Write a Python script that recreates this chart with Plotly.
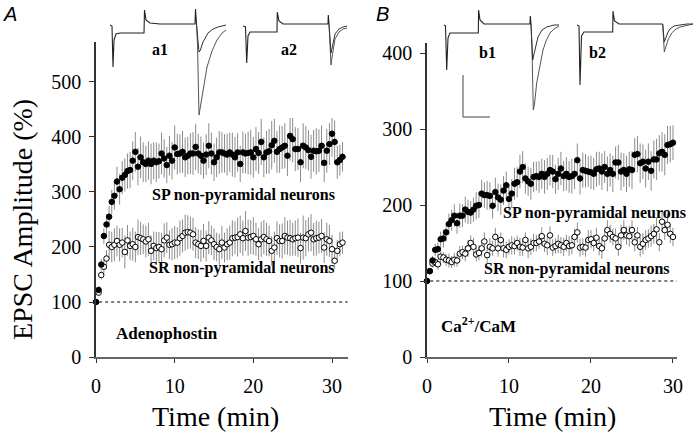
import plotly.graph_objects as go

W, H = 696, 438

# ---------------- data (EPSC amplitude, % of baseline), sampled every 20 s ----------------
sp_a = [100, 122, 168, 220, 241, 255, 282, 293, 319, 305,
        326, 331, 338, 340, 357, 373, 346, 363, 354, 351,
        357, 351, 357, 354, 356, 370, 361, 349, 366, 357,
        381, 369, 370, 373, 363, 366, 370, 370, 382, 370,
        366, 357, 368, 384, 370, 354, 363, 372, 372, 370,
        368, 372, 368, 363, 372, 351, 372, 370, 371, 372,
        363, 378, 371, 391, 363, 372, 374, 385, 393, 373,
        378, 381, 384, 366, 402, 396, 378, 378, 354, 384,
        381, 376, 364, 375, 374, 375, 384, 353, 375, 387,
        406, 391, 354, 358, 364]
sp_a_err = [0, 6, 10, 14, 18, 20, 22, 25, 27, 28,
            30, 30, 32, 33, 35, 36, 34, 38, 36, 33,
            35, 37, 34, 36, 32, 38, 35, 33, 36, 34,
            40, 37, 35, 38, 36, 34, 37, 39, 42, 36,
            35, 33, 37, 41, 38, 34, 36, 39, 37, 35,
            38, 36, 40, 37, 35, 33, 38, 36, 39, 41,
            37, 40, 38, 42, 36, 39, 41, 44, 40, 38,
            43, 39, 41, 37, 45, 42, 40, 38, 36, 41,
            39, 37, 40, 38, 42, 39, 37, 35, 40, 38,
            42, 39, 30, 28, 27]
sr_a = [100, 117, 149, 164, 179, 204, 200, 204, 211, 204,
        208, 191, 212, 202, 205, 200, 218, 216, 214, 210,
        214, 193, 202, 198, 200, 196, 212, 217, 204, 205,
        208, 208, 216, 220, 226, 227, 226, 223, 208, 205,
        202, 211, 202, 217, 212, 205, 200, 196, 208, 199,
        205, 208, 216, 217, 218, 223, 216, 229, 217, 218,
        220, 214, 205, 214, 218, 214, 211, 193, 199, 216,
        211, 211, 220, 217, 216, 214, 216, 217, 198, 217,
        216, 223, 226, 214, 216, 217, 220, 199, 214, 211,
        196, 175, 193, 205, 208]
sr_a_err = [0, 5, 8, 12, 15, 25, 28, 30, 28, 30,
            27, 30, 28, 26, 30, 28, 32, 30, 27, 29,
            30, 28, 26, 29, 27, 30, 31, 28, 26, 29,
            30, 28, 32, 30, 33, 31, 29, 30, 28, 27,
            29, 31, 28, 30, 27, 29, 26, 28, 30, 27,
            29, 31, 33, 30, 35, 34, 32, 36, 33, 31,
            34, 30, 29, 32, 31, 30, 28, 27, 29, 31,
            30, 32, 34, 31, 33, 30, 32, 35, 28, 40,
            33, 31, 34, 30, 32, 29, 31, 28, 30, 29,
            26, 15, 20, 22, 20]
sp_b = [100, 113, 127, 141, 142, 155, 156, 164, 175, 180,
        186, 176, 186, 186, 194, 191, 190, 194, 199, 200,
        215, 213, 213, 212, 199, 217, 210, 207, 219, 226,
        208, 215, 228, 230, 244, 250, 235, 231, 228, 237,
        238, 237, 241, 237, 241, 246, 244, 234, 241, 248,
        238, 241, 237, 238, 241, 259, 235, 246, 245, 244,
        243, 241, 247, 248, 244, 250, 241, 246, 241, 256,
        256, 244, 246, 241, 247, 246, 266, 267, 255, 257,
        248, 257, 245, 260, 260, 268, 270, 266, 279, 280,
        282]
sp_b_err = [0, 4, 6, 8, 9, 10, 12, 12, 14, 14,
            15, 14, 16, 15, 17, 16, 15, 16, 18, 17,
            18, 17, 19, 18, 17, 19, 18, 20, 19, 18,
            20, 19, 21, 20, 22, 21, 20, 19, 21, 20,
            19, 21, 20, 22, 21, 20, 22, 19, 21, 22,
            20, 22, 21, 23, 20, 22, 21, 23, 22, 20,
            22, 21, 23, 22, 24, 21, 23, 22, 24, 21,
            23, 25, 22, 24, 23, 25, 22, 24, 26, 23,
            25, 24, 26, 25, 27, 24, 26, 27, 25, 24,
            23]
sr_b = [100, 113, 123, 125, 122, 132, 131, 128, 127, 125,
        128, 127, 136, 138, 136, 143, 150, 145, 135, 137,
        143, 152, 134, 145, 143, 158, 143, 154, 143, 141,
        145, 147, 146, 150, 145, 144, 154, 143, 145, 150,
        150, 152, 159, 149, 147, 160, 144, 146, 149, 147,
        145, 150, 146, 147, 158, 164, 144, 145, 144, 154,
        155, 150, 157, 146, 143, 156, 167, 162, 158, 156,
        145, 160, 167, 160, 159, 167, 151, 160, 145, 149,
        154, 156, 159, 162, 168, 151, 178, 167, 174, 162,
        158]
sr_b_err = [0, 3, 5, 6, 7, 8, 7, 8, 9, 8,
            9, 8, 10, 9, 10, 11, 10, 12, 9, 10,
            11, 12, 10, 11, 10, 12, 11, 10, 12, 11,
            10, 12, 11, 10, 12, 11, 10, 13, 11, 12,
            11, 10, 12, 11, 13, 12, 11, 10, 12, 11,
            12, 11, 13, 12, 11, 13, 12, 11, 12, 13,
            12, 11, 13, 12, 14, 12, 13, 12, 11, 13,
            12, 14, 13, 12, 14, 13, 12, 11, 13, 14,
            13, 12, 14, 13, 15, 12, 14, 13, 15, 12,
            12]

t_a = [k / 3 for k in range(len(sp_a))]
t_b = [k / 3 for k in range(len(sp_b))]

y_ticks_a = [0, 100, 200, 300, 400, 500]
y_ticks_b = [0, 100, 200, 300, 400]
x_ticks = [0, 10, 20, 30]

# ---------------- inset sample traces (local time units, current units) ----------------
a1_common_t = [0, 2, 3, 4, 6, 10, 34, 34.5, 36, 40, 50, 85, 85.5, 86.5]
a1_common_i = [-1, -2, -43, -16, -10, -9, -9, 14, 4, 1, 0, 0, 15, 0]
a1_big_t = [86.5, 87.5, 89, 90, 93, 97, 102, 107, 112, 116]
a1_big_i = [0, -20, -91, -85, -65, -43, -27, -16, -9, -6]
a1_small_t = [86.5, 87.5, 89, 90, 93, 98, 103, 108, 116]
a1_small_i = [0, -10, -28, -27, -18, -9, -5, -3, -1]

a2_common_t = [0, 2.5, 3.7, 5, 7, 34, 34.3, 36, 40, 85, 85.3, 86]
a2_common_i = [-2, -3, -39, -12, -8, -8, 12, 3, 0, 0, 9, 0]
a2_big_t = [86, 87, 88, 89.5, 92, 96, 100, 104]
a2_big_i = [0, -20, -41, -30, -15, -8, -5, -4]
a2_small_t = [86, 87, 88, 89.5, 92, 96, 100, 104]
a2_small_i = [0, -14, -29, -22, -10, -5, -3, -2]

b1_common_t = [0, 1.5, 2.7, 4, 6, 34.3, 34.6, 36, 40, 86, 86.3, 87]
b1_common_i = [-1, -2, -46, -14, -9, -9, 14, 4, 0, 0, 8, 0]
b1_big_t = [87, 88, 89.3, 90.5, 92.7, 96, 99, 102, 106, 110, 115]
b1_big_i = [0, -25, -86, -80, -59, -40, -26, -17, -9, -5, -2]
b1_small_t = [87, 88, 88.7, 90, 94, 98, 102.7, 110, 115]
b1_small_i = [0, -15, -36, -30, -13, -6, -3, -1, -1]
scale_t = [19, 19, 46]
scale_i = [-51, -93, -93]

b2_common_t = [0, 2, 3, 4.5, 7, 35.7, 36, 37.5, 42, 85.7]
b2_common_i = [-1, -2, -61, -12, -8, -8, 13, 3, 0, 0]
b2_big_t = [85.7, 86.5, 87.3, 88.5, 91, 94.7, 99, 103, 110, 116]
b2_big_i = [0, -12, -28, -24, -16, -9, -5, -3, -1, 0]
b2_small_t = [85.7, 86.5, 87.3, 88.5, 91, 93, 97, 103, 110, 116]
b2_small_i = [0, -8, -18, -15, -8, -5, -2, -1, 0, 0]

# ---------------- helpers ----------------
def px(x):
    return x / W

def py(y):
    return 1 - y / H

SERIF = "Liberation Serif"
ERR = "#8c8c8c"

fig = go.Figure()

def add_series(t, v, e, xa, ya, filled):
    fig.add_trace(go.Scatter(
        x=t, y=v, mode="markers", xaxis=xa, yaxis=ya, cliponaxis=False,
        error_y=dict(type="data", array=e, color=ERR, thickness=1, width=0),
        marker=dict(size=5.5, symbol="circle",
                    color="black" if filled else "white",
                    line=dict(color="black", width=1)),
        showlegend=False, hoverinfo="skip"))

add_series(t_a, sr_a, sr_a_err, "x", "y", False)
add_series(t_a, sp_a, sp_a_err, "x", "y", True)
add_series(t_b, sr_b, sr_b_err, "x2", "y2", False)
add_series(t_b, sp_b, sp_b_err, "x2", "y2", True)

def add_line(t, i, xa, ya, color="#222", w=1.1):
    fig.add_trace(go.Scatter(x=t, y=i, mode="lines", xaxis=xa, yaxis=ya,
                             line=dict(color=color, width=w), showlegend=False,
                             hoverinfo="skip", cliponaxis=False))

for (ct, ci, bt, bi, st, si, xa, ya) in [
        (a1_common_t, a1_common_i, a1_big_t, a1_big_i, a1_small_t, a1_small_i, "x3", "y3"),
        (a2_common_t, a2_common_i, a2_big_t, a2_big_i, a2_small_t, a2_small_i, "x4", "y4"),
        (b1_common_t, b1_common_i, b1_big_t, b1_big_i, b1_small_t, b1_small_i, "x5", "y5"),
        (b2_common_t, b2_common_i, b2_big_t, b2_big_i, b2_small_t, b2_small_i, "x6", "y6")]:
    add_line(ct, ci, xa, ya)
    add_line(bt, bi, xa, ya, color="#555", w=1)
    add_line(st, si, xa, ya, color="#333", w=1)
add_line(scale_t, scale_i, "x5", "y5", color="#444", w=1)

# ---------------- axes ----------------
tickfont = dict(family=SERIF, size=20, color="black")
common_x = dict(showgrid=False, zeroline=False, showline=True, linecolor="#666",
                linewidth=1.5, ticks="outside", ticklen=4, tickcolor="#333",
                tickvals=x_ticks, ticktext=[str(v) for v in x_ticks],
                tickfont=tickfont, fixedrange=True, automargin=False,
                ticklabelstandoff=6)
common_y = dict(showgrid=False, zeroline=False, showline=True, linecolor="#333",
                linewidth=1.5, ticks="outside", ticklen=5, tickcolor="#333",
                tickfont=tickfont, fixedrange=True, automargin=False,
                ticklabelstandoff=4)

layout_axes = dict(
    xaxis=dict(common_x, domain=[px(96), px(348)], range=[0, 32.03], anchor="y"),
    yaxis=dict(common_y, domain=[py(357), py(42)], range=[0, 572.7],
               tickvals=y_ticks_a, ticktext=[str(v) for v in y_ticks_a], anchor="x"),
    xaxis2=dict(common_x, domain=[px(427), px(677)], range=[0, 30.49], anchor="y2"),
    yaxis2=dict(common_y, domain=[py(357), py(43)], range=[0, 413.2],
                tickvals=y_ticks_b, ticktext=[str(v) for v in y_ticks_b], anchor="x2"),
)
insets = [("3", 110, 228), ("4", 243, 350), ("5", 444, 562), ("6", 577, 695)]
for n, x0, x1 in insets:
    layout_axes["xaxis" + n] = dict(domain=[px(x0), px(x1)], range=[0, x1 - x0],
                                    visible=False, anchor="y" + n, fixedrange=True)
    layout_axes["yaxis" + n] = dict(domain=[py(118), py(5)], range=[-94, 19],
                                    visible=False, anchor="x" + n, fixedrange=True)

fig.update_layout(
    width=W, height=H, margin=dict(l=0, r=0, t=0, b=0, autoexpand=False),
    paper_bgcolor="white", plot_bgcolor="white",
    font=dict(family=SERIF, size=20, color="black"),
    **layout_axes)

# dotted baseline at 100 %
fig.add_shape(type="line", xref="x", yref="y", x0=0.4, x1=32, y0=100, y1=100,
              line=dict(color="black", width=1, dash="dot"))
fig.add_shape(type="line", xref="x2", yref="y2", x0=0.4, x1=30.45, y0=100, y1=100,
              line=dict(color="black", width=1, dash="dot"))

def ann(text, x, y, size, bold=False, family=SERIF, italic=False, angle=0):
    if bold:
        text = "<b>" + text + "</b>"
    if italic:
        text = "<i>" + text + "</i>"
    fig.add_annotation(text=text, x=px(x), y=py(y), xref="paper", yref="paper",
                       showarrow=False, textangle=angle,
                       font=dict(family=family, size=size, color="black"),
                       xanchor="center", yanchor="middle")

ann("A", 10, 14, 20, family="Liberation Sans", italic=True)
ann("B", 382, 14, 20, family="Liberation Sans", italic=True)
ann("a1", 160, 50, 16, bold=True)
ann("a2", 289, 50, 16, bold=True)
ann("b1", 487, 52, 16, bold=True)
ann("b2", 597, 52, 16, bold=True)
ann("SP non-pyramidal neurons", 243, 195, 16, bold=True)
ann("SR non-pyramidal neurons", 242, 268, 16, bold=True)
ann("SP non-pyramidal neurons", 594, 213, 16, bold=True)
ann("SR non-pyramidal neurons", 577, 269, 16, bold=True)
ann("Adenophostin", 167, 333, 17, bold=True)
ann("Ca<sup>2+</sup>/CaM", 478, 325, 17, bold=True)
ann("Time (min)", 215, 416, 28)
ann("Time (min)", 552, 416, 28)
ann("EPSC Amplitude (%)", 22, 220, 28, angle=-90)

fig.write_html("out.html", config={"displayModeBar": False},
               post_script="document.body.style.margin='0px';"
                           "document.body.style.overflow='hidden';")
